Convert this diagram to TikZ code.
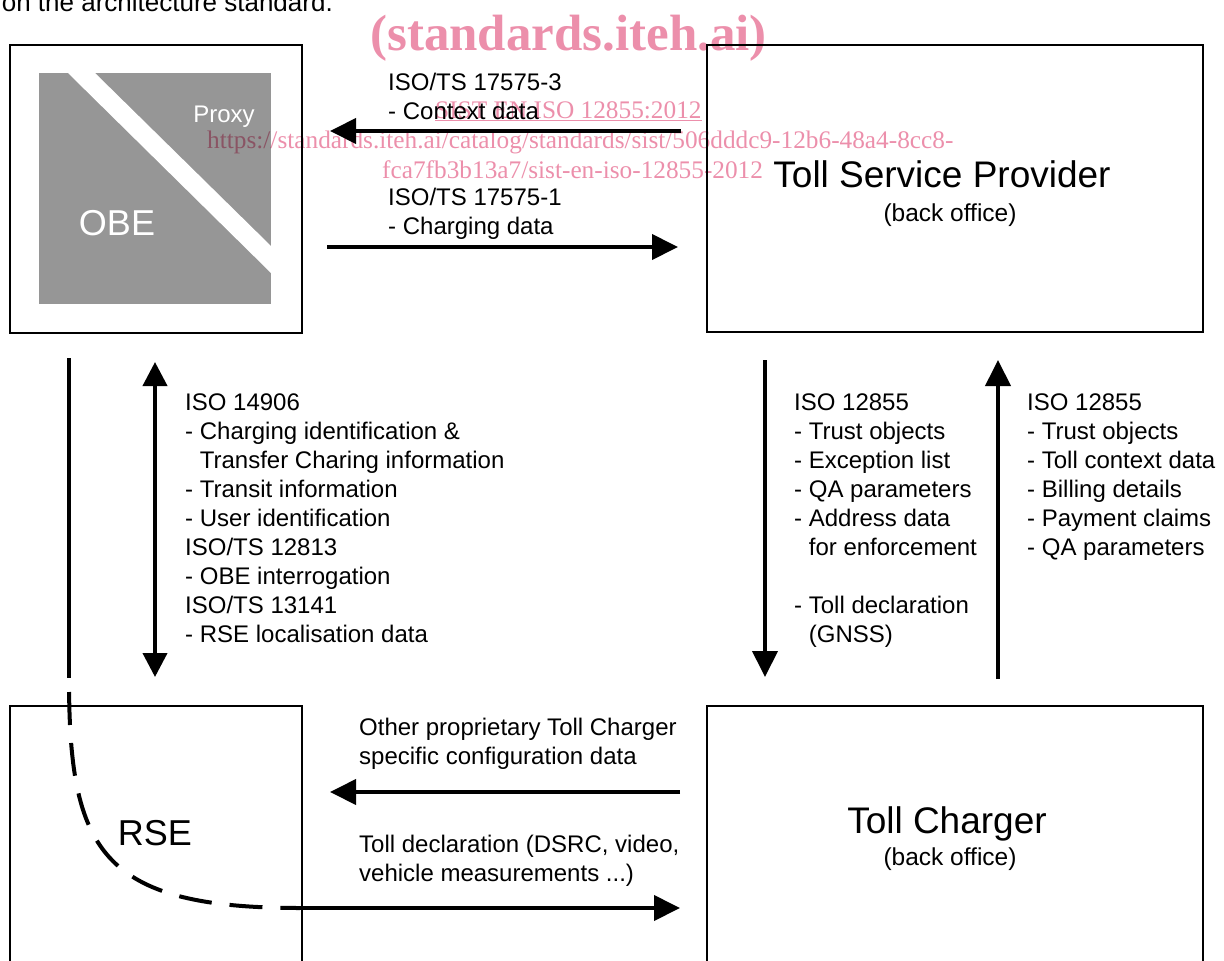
\documentclass[tikz,border=0pt]{standalone}
\usepackage{fontspec}
\setmainfont{Liberation Sans}
\newfontfamily\wmfont{Liberation Serif}
\usetikzlibrary{arrows.meta}
\definecolor{obegray}{RGB}{150,150,150}
\definecolor{wmpink}{RGB}{236,143,171}

\begin{document}
\begin{tikzpicture}[x=1pt, y=-1pt, box/.style={draw, line width=2.8pt, inner sep=0pt}, flow/.style={line width=4pt, -{Triangle[length=26pt,width=25pt]}}, txt/.style={font=\fontsize{24}{29}\selectfont, align=left, inner sep=0pt, anchor=base west}, big/.style={font=\fontsize{37}{42}\selectfont, inner sep=0pt, anchor=base}, sub/.style={font=\fontsize{24.5}{29}\selectfont, inner sep=0pt, anchor=base}, wm/.style={font=\wmfont\fontsize{25.3}{30}\selectfont, text=wmpink, inner sep=0pt, anchor=base west}]

\useasboundingbox (0,0) rectangle (1224,961);

\node[txt, anchor=base east, font=\fontsize{26}{30}\selectfont] (intro) at (333,12) {on the architecture standard.};

\node[box, minimum width=292pt, minimum height=288pt] (obe) at (156,189) {};
\node[box, minimum width=496pt, minimum height=287pt] (tsp) at (955,188.5) {};
\node[box, minimum width=292pt, minimum height=300pt] (rse) at (156,856) {};
\node[box, minimum width=496pt, minimum height=300pt] (tc) at (955,856) {};

\fill[obegray] (39,73) rectangle (271,304);
\fill[white] (68,73) -- (95,73) -- (271,246) -- (271,273) -- cycle;
\node[text=white, inner sep=0pt, font=\fontsize{24}{29}\selectfont] (proxy) at (224,117) {Proxy};
\node[text=white, inner sep=0pt, font=\fontsize{36}{40}\selectfont] (obetxt) at (117,223) {OBE};

\node[big] (tsptxt) at (942,187) {Toll Service Provider};
\node[sub] (tspsub) at (950,221) {(back office)};
\node[big] (tctxt) at (947,833) {Toll Charger};
\node[sub] (tcsub) at (950,865) {(back office)};
\node[inner sep=0pt, font=\fontsize{36}{40}\selectfont] (rsetxt) at (155,833) {RSE};

\coordinate (ctxA) at (681,131);
\coordinate (ctxB) at (330,131);
\coordinate (chgA) at (327,247);
\coordinate (chgB) at (678,247);
\coordinate (obeD) at (69,358);
\coordinate (obeK) at (69,678);
\coordinate (rseK) at (300,908);
\coordinate (tcL) at (680,908);
\coordinate (cfgA) at (680,792);
\coordinate (cfgB) at (330,792);
\coordinate (isoT) at (155,362);
\coordinate (isoB) at (155,677);
\coordinate (downT) at (765,360);
\coordinate (downB) at (765,677);
\coordinate (upB) at (998,679);
\coordinate (upT) at (998,360);

\draw[flow] (ctxA) -- (ctxB);
\draw[flow] (chgA) -- (chgB);
\draw[line width=4pt] (obeD) -- (obeK);
\draw[line width=4pt, dash pattern=on 33pt off 18pt, dash phase=37pt] (obeK) .. controls (69,850) and (100,908) .. (rseK);
\draw[flow] (rseK) -- (tcL);
\draw[flow] (cfgA) -- (cfgB);
\draw[line width=4pt, {Triangle[length=24pt,width=24pt]}-{Triangle[length=24pt,width=24pt]}] (isoT) -- (isoB);
\draw[flow] (downT) -- (downB);
\draw[flow] (upB) -- (upT);

\node[txt] (ctxlbl) at (388,119) {ISO/TS 17575-3\\- Context data};
\node[txt] (chglbl) at (388,234) {ISO/TS 17575-1\\- Charging data};
\node[txt] (dsrclbl) at (185,642) {ISO 14906\\- Charging identification \&\\\phantom{- }Transfer Charing information\\- Transit information\\- User identification\\ISO/TS 12813\\- OBE interrogation\\ISO/TS 13141\\- RSE localisation data};
\node[txt] (downlbl) at (794,642) {ISO 12855\\- Trust objects\\- Exception list\\- QA parameters\\- Address data\\\phantom{- }for enforcement\\[29pt]- Toll declaration\\\phantom{- }(GNSS)};
\node[txt] (uplbl) at (1027,555) {ISO 12855\\- Trust objects\\- Toll context data\\- Billing details\\- Payment claims\\- QA parameters};
\node[txt] (cfglbl) at (359,764) {Other proprietary Toll Charger\\specific configuration data};
\node[txt] (decllbl) at (359,881) {Toll declaration (DSRC, video,\\vehicle measurements ...)};

\begin{scope}[blend mode=multiply]
\node[inner sep=0pt, anchor=base west, text=wmpink, font=\wmfont\bfseries\fontsize{51}{55}\selectfont] (wmsite) at (370,50) {(standards.iteh.ai)};
\node[wm] (wmcode) at (435,118) {\underline{SIST EN ISO 12855:2012}};
\node[wm] (wmurl) at (207,148) {https://standards.iteh.ai/catalog/standards/sist/506dddc9-12b6-48a4-8cc8-};
\node[wm] (wmpath) at (382,178) {fca7fb3b13a7/sist-en-iso-12855-2012};
\end{scope}
\end{tikzpicture}
\end{document}
